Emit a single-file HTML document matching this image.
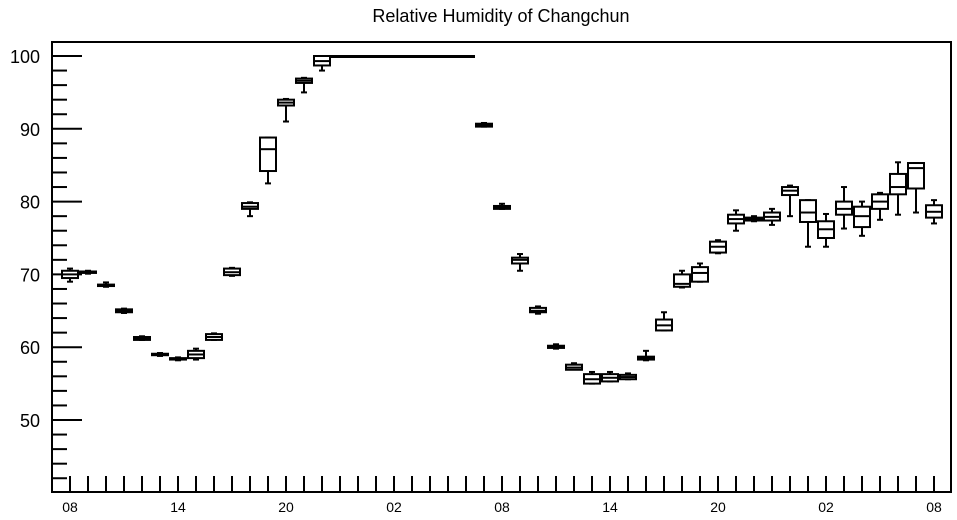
<!DOCTYPE html>
<html><head><meta charset="utf-8"><style>
html,body{margin:0;padding:0;background:#fff;}
svg{display:block;font-family:"Liberation Sans",sans-serif;}
</style></head><body>
<svg id="chart" width="957" height="520" viewBox="0 0 957 520">
<text x="501" y="22" text-anchor="middle" font-size="18">Relative Humidity of Changchun</text>
<rect x="52" y="42" width="899" height="450" fill="none" stroke="#000" stroke-width="2"/>
<g id="axes"></g><g id="boxes"></g>
</svg>
<script>
const hourLabels=["08","14","20","02","08","14","20","02","08"];
const yTicks=[50,60,70,80,90,100];
const lo =[69,70.1,68.3,64.7,61,58.8,58.2,58.3,61,69.8,78,82.5,91,95,98,100,100,100,100,100,100,100,100,90.3,79,70.5,64.6,59.8,57,55,55.3,55.6,58.2,62.3,68.2,69,72.9,76,77.3,76.8,78,73.8,73.8,76.3,75.3,77.5,78.2,78.5,77];
const q1 =[69.5,70.2,68.4,64.8,61,58.9,58.3,58.5,61,69.9,79,84.2,93.2,96.3,98.7,100,100,100,100,100,100,100,100,90.3,79,71.5,64.8,59.9,56.9,55,55.3,55.6,58.3,62.3,68.3,69,73,77,77.4,77.4,80.9,77.2,75,78.2,76.5,79,81,81.8,77.8];
const med=[70,70.3,68.5,65,61.2,59,58.4,59,61.4,70.3,79.3,87.2,93.6,96.6,99.3,100,100,100,100,100,100,100,100,90.5,79.2,72,65,60,57.2,55.6,55.8,55.9,58.5,63,68.7,70.2,73.8,77.6,77.6,77.9,81.5,78.5,76.2,79,78,80,82,84.6,78.6];
const q3 =[70.5,70.4,68.6,65.2,61.4,59.1,58.5,59.5,61.8,70.8,79.8,88.8,94,96.9,100,100,100,100,100,100,100,100,100,90.7,79.4,72.3,65.4,60.2,57.6,56.3,56.3,56.2,58.7,63.8,70,71,74.5,78.2,77.8,78.5,82,80.2,77.3,80,79.3,81,83.8,85.3,79.5];
const hi =[70.8,70.5,68.9,65.3,61.5,59.2,58.6,59.8,61.9,70.9,79.9,88.8,94.1,97,100,100,100,100,100,100,100,100,100,90.8,79.7,72.8,65.6,60.4,57.8,56.6,56.6,56.4,59.5,64.8,70.5,71.5,74.7,78.8,78,79,82.2,80.2,78.3,82,80,81.2,85.4,85.3,80.2];
const NS="http://www.w3.org/2000/svg";
const xS=i=>70+18*i;
const yS=v=>56+(100-v)*7.28;
function mk(t,a,p){const e=document.createElementNS(NS,t);for(const k in a)e.setAttribute(k,a[k]);p.appendChild(e);return e;}
const ax=document.getElementById('axes');
for(let v=42;v<=100;v+=2){
  const major=v%10===0;
  const l=mk('line',{x1:52,x2:major?82:67,y1:yS(v),y2:yS(v),stroke:'#000','stroke-width':2},ax);
  
  
}
yTicks.forEach(v=>{const t=mk('text',{x:40,y:yS(v)+7,'text-anchor':'end','font-size':18},ax);t.textContent=v;
  
  });
for(let i=0;i<lo.length;i++){
  const l=mk('line',{x1:xS(i),x2:xS(i),y1:476,y2:492,stroke:'#000','stroke-width':2},ax);
  
  
}
hourLabels.forEach((s,j)=>{const t=mk('text',{x:xS(j*6),y:512,'text-anchor':'middle','font-size':14},ax);t.textContent=s;
  
  });
const bx=document.getElementById('boxes');
for(let i=0;i<lo.length;i++){
  const g=mk('g',{stroke:'#000','stroke-width':2,fill:'none'},bx);
  
  
  const x=xS(i);
  mk('line',{x1:x,x2:x,y1:yS(hi[i]),y2:yS(lo[i])},g);
  mk('line',{x1:x-3,x2:x+3,y1:yS(hi[i]),y2:yS(hi[i])},g);
  mk('line',{x1:x-3,x2:x+3,y1:yS(lo[i]),y2:yS(lo[i])},g);
  const h=Math.max(yS(q1[i])-yS(q3[i]),1);
  mk('rect',{x:x-8,y:yS(q3[i]),width:16,height:h,fill:'#fff'},g);
  mk('line',{x1:x-8,x2:x+8,y1:yS(med[i]),y2:yS(med[i])},g);
}
</script>
</body></html>
